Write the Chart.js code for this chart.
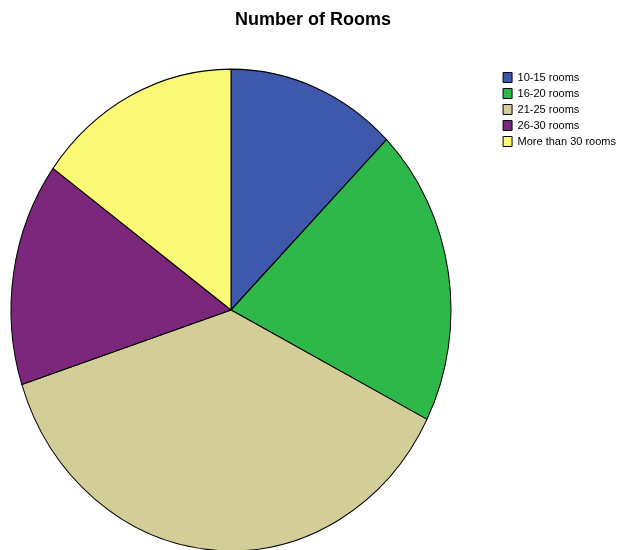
<!DOCTYPE html>
<html lang="en">
<head>
    <meta charset="UTF-8">
    <title>Number of Rooms</title>
    <script src="https://cdn.jsdelivr.net/npm/chart.js@4.4.0/dist/chart.umd.min.js"></script>
    <style>
        body {
            margin: 0;
            background-color: #fff;
        }
        #roomsChart {
            display: block;
        }
    </style>
</head>
<body>
    <canvas id="roomsChart" width="626" height="550"></canvas>

    <script>
        // Data (percent of hotels)
        const categories = ['10-15 rooms', '16-20 rooms', '21-25 rooms', '26-30 rooms', 'More than 30 rooms'];
        const shares = [12.5, 20, 37.5, 15, 15];
        const sliceColors = ['#3e58ac', '#2eb84a', '#d3ce98', '#7b287c', '#fbf875'];

        // The original pie is slightly taller than wide, so stretch the arcs
        const PIE_CENTER_X = 231;
        const PIE_CENTER_Y = 310;
        const STRETCH_Y = 1.095;

        const ellipsePlugin = {
            id: 'ellipsePie',
            beforeDatasetsDraw(chart) {
                const arc = chart.getDatasetMeta(0).data[0];
                const ctx = chart.ctx;
                ctx.save();
                ctx.translate(PIE_CENTER_X, PIE_CENTER_Y);
                ctx.scale(1, STRETCH_Y);
                ctx.translate(-arc.x, -arc.y);
            },
            afterDatasetsDraw(chart) {
                chart.ctx.restore();
            }
        };

        Chart.defaults.font.family = '"Liberation Sans", Arial, sans-serif';
        Chart.defaults.color = '#000';

        const ctx = document.getElementById('roomsChart').getContext('2d');
        new Chart(ctx, {
            type: 'pie',
            data: {
                labels: categories,
                datasets: [{
                    data: shares,
                    backgroundColor: sliceColors,
                    borderColor: '#000',
                    borderWidth: 1,
                    radius: 220
                }]
            },
            options: {
                responsive: false,
                animation: false,
                plugins: {
                    title: {
                        display: true,
                        text: 'Number of Rooms',
                        font: { size: 18, weight: 'bold' },
                        padding: { top: 9, bottom: 40 }
                    },
                    legend: {
                        position: 'right',
                        align: 'start',
                        // blank legend title only pushes the items down
                        title: {
                            display: true,
                            text: ' ',
                            font: { size: 10 },
                            padding: { top: 0, bottom: 55 }
                        },
                        labels: {
                            boxWidth: 9,
                            boxHeight: 10,
                            padding: 5,
                            font: { size: 11 },
                            color: '#000'
                        }
                    },
                    tooltip: { enabled: false }
                }
            },
            plugins: [ellipsePlugin]
        });
    </script>
</body>
</html>
